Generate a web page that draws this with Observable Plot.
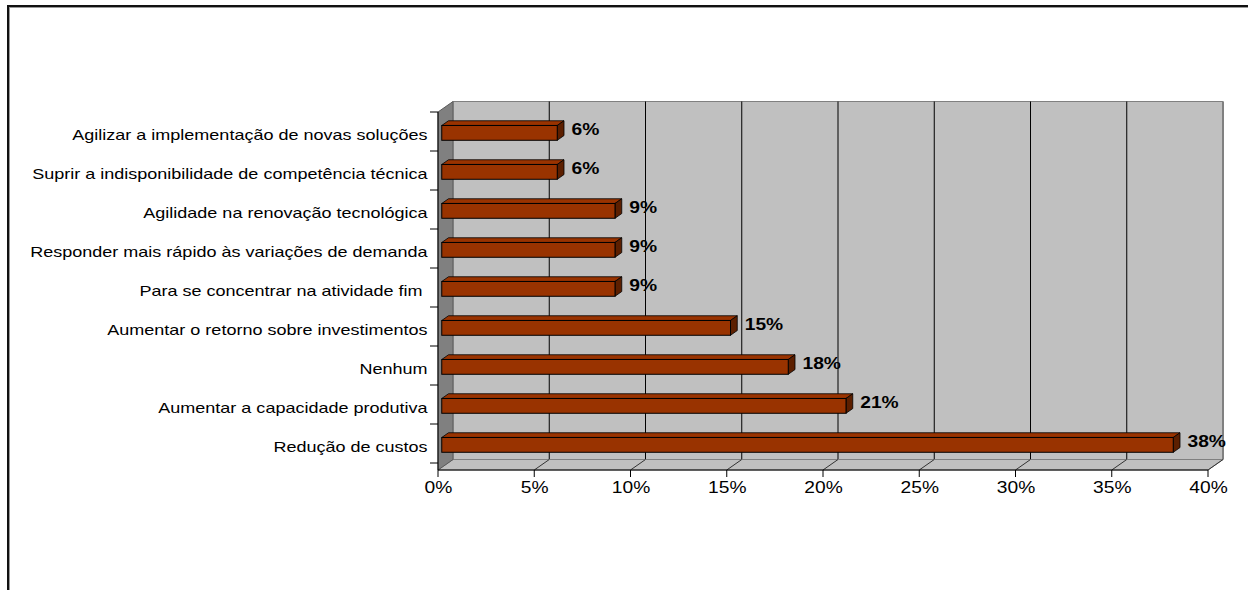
<!DOCTYPE html>
<html>
<head>
<meta charset="utf-8">
<script src="https://cdn.jsdelivr.net/npm/d3@7"></script>
<script src="https://cdn.jsdelivr.net/npm/@observablehq/plot@0.6"></script>
<style>
  html, body { margin: 0; padding: 0; background: #fff; }
  #wrap { position: relative; width: 1248px; height: 590px; overflow: hidden; }
  #border { position: absolute; left: 7px; top: 5px; width: 1300px; height: 700px;
            border-left: 2px solid #111; border-top: 2px solid #111;
            box-shadow: inset 1px 1px 0 #999; }
  #chart { position: absolute; left: 0; top: 0; }
  #chart svg { display: block; }
</style>
</head>
<body>
<div id="wrap"><div id="border"></div><div id="chart"></div></div>
<script>
// ---- data ----
const categories = [
  "Agilizar a implementação de novas soluções",
  "Suprir a indisponibilidade de competência técnica",
  "Agilidade na renovação tecnológica",
  "Responder mais rápido às variações de demanda",
  "Para se concentrar na atividade fim ",
  "Aumentar o retorno sobre investimentos",
  "Nenhum",
  "Aumentar a capacidade produtiva",
  "Redução de custos"
];
const values = [6, 6, 9, 9, 9, 15, 18, 21, 38];
const xTicks = [0, 5, 10, 15, 20, 25, 30, 35, 40];
const xTickLabels = ["0%", "5%", "10%", "15%", "20%", "25%", "30%", "35%", "40%"];

const data = categories.map((c, i) => ({category: c, value: values[i]}));
const ticks = xTicks.map((t, i) => ({t, label: xTickLabels[i]}));

// ---- 3D geometry (pixels) ----
const D = {x: 15, y: -10.5};                 // wall depth
const BF = 0.25, BB = 0.70;                  // bar front/back depth fractions
const bf = {x: D.x * BF, y: D.y * BF};
const bd = {x: D.x * (BB - BF), y: D.y * (BB - BF)};
const INSET = 12.1;
const FONT = "'Liberation Sans', Arial, Helvetica, sans-serif";

const svg = Plot.plot({
  width: 1248,
  height: 590,
  marginLeft: 438,
  marginRight: 40,
  marginTop: 112,
  marginBottom: 120,
  style: {background: "transparent", fontFamily: FONT, color: "#000"},
  x: {domain: [0, 40], axis: null},
  y: {domain: categories, padding: 0, axis: null},
  marks: [
    Plot.barX(data, {
      x: "value", y: "category",
      fill: "#993300", stroke: "#000", strokeWidth: 1,
      insetTop: INSET, insetBottom: INSET, dx: bf.x, dy: bf.y
    }),
    Plot.text(data, {
      x: "value", y: "category", text: d => d.value + "%",
      textAnchor: "start", dx: bf.x + bd.x + 7, dy: bf.y + bd.y / 2 - 1,
      fontWeight: "bold", fontSize: 16, fill: "#000"
    }),
    Plot.text(categories, {
      y: d => d, frameAnchor: "left", text: d => d,
      textAnchor: "end", dx: -11, dy: -1, fontSize: 15, fill: "#000"
    }),
    Plot.text(ticks, {
      x: "t", frameAnchor: "bottom", text: "label",
      textAnchor: "middle", dy: 22, fontSize: 16, fill: "#000"
    })
  ]
});
document.getElementById("chart").appendChild(svg);

// ---- scales from the plot ----
const xs = svg.scale("x"), ys = svg.scale("y");
const X = v => xs.apply(v);
const step = ys.step || ys.bandwidth;
const Y = c => ys.apply(c);
const x0 = X(0), x1 = X(40);
const yTop = ys.range[0], yBot = ys.range[1];

// ---- 3D decoration behind the marks ----
const decor = d3.create("svg:g").attr("aria-label", "3d-decor");
const pts = a => a.map(p => p.join(",")).join(" ");

// back wall
decor.append("polygon")
  .attr("points", pts([[x0 + D.x, yTop + D.y], [x1 + D.x, yTop + D.y], [x1 + D.x, yBot + D.y], [x0 + D.x, yBot + D.y]]))
  .attr("fill", "#c0c0c0").attr("stroke", "#808080").attr("stroke-width", 1);
// right edge of back wall
decor.append("line")
  .attr("x1", x1 + D.x).attr("x2", x1 + D.x).attr("y1", yTop + D.y).attr("y2", yBot + D.y)
  .attr("stroke", "#808080").attr("stroke-width", 2);
// gridlines on back wall
xTicks.filter(t => t > 0 && t < 40).forEach(t => {
  decor.append("line")
    .attr("x1", X(t) + D.x).attr("x2", X(t) + D.x).attr("y1", yTop + D.y).attr("y2", yBot + D.y)
    .attr("stroke", "#000").attr("stroke-width", 1);
});
// floor
decor.append("polygon")
  .attr("points", pts([[x0, yBot], [x1, yBot], [x1 + D.x, yBot + D.y], [x0 + D.x, yBot + D.y]]))
  .attr("fill", "#c0c0c0").attr("stroke", "#808080").attr("stroke-width", 1);
// floor diagonals
xTicks.filter(t => t > 0).forEach(t => {
  decor.append("line")
    .attr("x1", X(t)).attr("y1", yBot).attr("x2", X(t) + D.x).attr("y2", yBot + D.y)
    .attr("stroke", "#333").attr("stroke-width", 1);
});
// left wall
decor.append("polygon")
  .attr("points", pts([[x0, yTop], [x0 + D.x, yTop + D.y], [x0 + D.x, yBot + D.y], [x0, yBot]]))
  .attr("fill", "#808080").attr("stroke", "#5a5a5a").attr("stroke-width", 1);
// y axis line + ticks at category boundaries
decor.append("line").attr("x1", x0).attr("x2", x0).attr("y1", yTop).attr("y2", yBot)
  .attr("stroke", "#000").attr("stroke-width", 1);
for (let i = 0; i <= categories.length; i++) {
  const yy = yTop + i * step;
  decor.append("line").attr("x1", x0 - 8).attr("x2", x0).attr("y1", yy).attr("y2", yy)
    .attr("stroke", "#000").attr("stroke-width", 1);
}
// x axis line + ticks
decor.append("line").attr("x1", x0).attr("x2", x1).attr("y1", yBot).attr("y2", yBot)
  .attr("stroke", "#000").attr("stroke-width", 1);
xTicks.forEach(t => {
  decor.append("line").attr("x1", X(t)).attr("x2", X(t)).attr("y1", yBot).attr("y2", yBot + 7)
    .attr("stroke", "#000").attr("stroke-width", 1);
});
// bar top and side faces
data.forEach(d => {
  const xl = X(0) + bf.x, xr = X(d.value) + bf.x;
  const yt = Y(d.category) + INSET + bf.y, yb = Y(d.category) + step - INSET + bf.y;
  decor.append("polygon")
    .attr("points", pts([[xl, yt], [xr, yt], [xr + bd.x, yt + bd.y], [xl + bd.x, yt + bd.y]]))
    .attr("fill", "#993300").attr("stroke", "#000").attr("stroke-width", 0.8);
  decor.append("polygon")
    .attr("points", pts([[xr, yt], [xr + bd.x, yt + bd.y], [xr + bd.x, yb + bd.y], [xr, yb]]))
    .attr("fill", "#5c1f00").attr("stroke", "#000").attr("stroke-width", 0.8);
});

const styleEl = svg.querySelector("style");
const firstMark = styleEl ? styleEl.nextSibling : svg.firstChild;
svg.insertBefore(decor.node(), firstMark);

// horizontal stretch of text as in the reference rendering
svg.querySelectorAll("text").forEach(t => {
  const L = t.getComputedTextLength();
  if (L > 0) {
    t.setAttribute("textLength", (L * 1.2).toFixed(1));
    t.setAttribute("lengthAdjust", "spacingAndGlyphs");
  }
});
</script>
</body>
</html>
